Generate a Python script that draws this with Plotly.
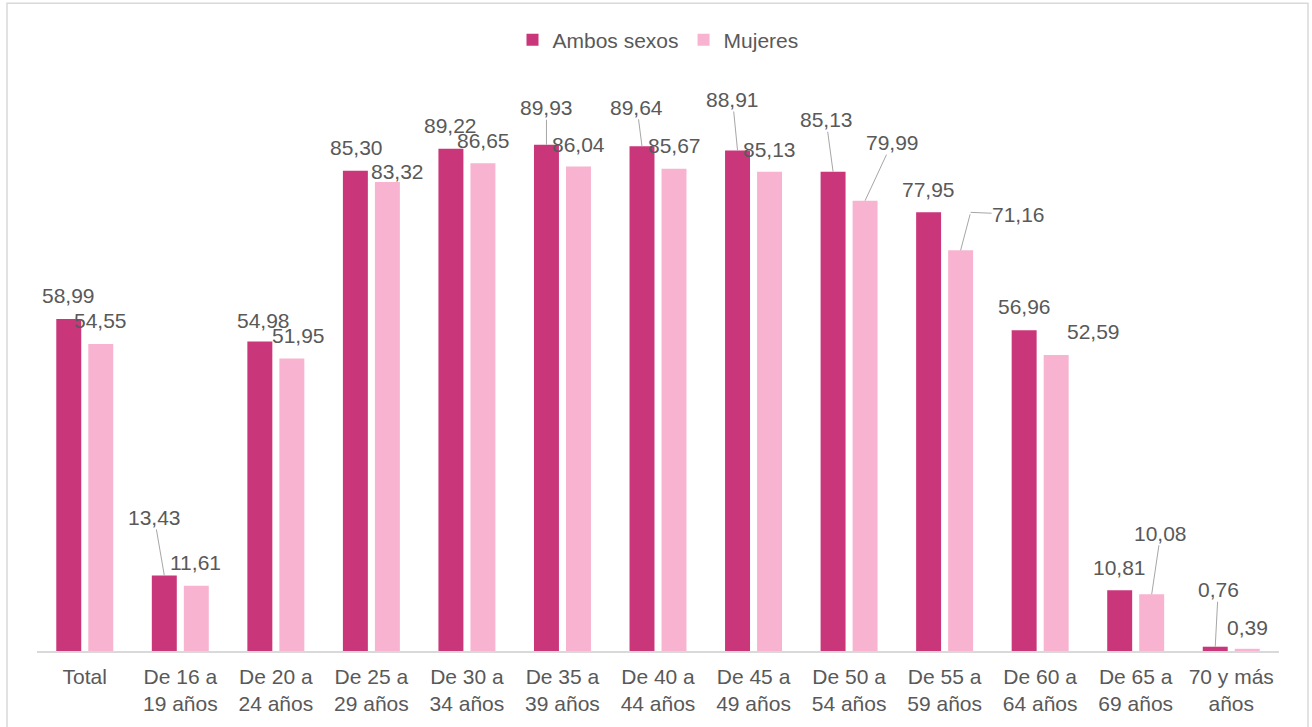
import plotly.graph_objects as go

# ---- data ----
categories = ["Total", "De 16 a<br>19 años", "De 20 a<br>24 años", "De 25 a<br>29 años",
              "De 30 a<br>34 años", "De 35 a<br>39 años", "De 40 a<br>44 años", "De 45 a<br>49 años",
              "De 50 a<br>54 años", "De 55 a<br>59 años", "De 60 a<br>64 años", "De 65 a<br>69 años",
              "70 y más<br>años"]
ambos = [58.99, 13.43, 54.98, 85.30, 89.22, 89.93, 89.64, 88.91, 85.13, 77.95, 56.96, 10.81, 0.76]
mujeres = [54.55, 11.61, 51.95, 83.32, 86.65, 86.04, 85.67, 85.13, 79.99, 71.16, 52.59, 10.08, 0.39]
series_names = ["Ambos sexos", "Mujeres"]

# ---- styles ----
C_AMBOS = "#C9367A"
C_MUJ = "#F8B3D0"
TXT = "#595959"
LEAD = "#A6A6A6"
FONT = "Liberation Sans, Arial, sans-serif"
FS = 21

W, H = 1312, 727
ML, MR, MT, MB = 37, 33, 88, 74
BARGAP, GROUPGAP = 0.33, 0.22

# label placement (pixel offsets of label centre from bar top centre), leader flag
lab_ambos = [(0, -23, False), (-10, -58, True), (4, -21, False), (1, -23.5, False),
             (0, -23, False), (0, -37, True), (-5, -39, True), (-5, -51, True),
             (-7, -52, True), (0, -23, False), (0, -24, False), (0, -22.5, False),
             (3, -57, True)]
lab_muj = [(0, -23, False), (-1, -23, False), (7, -23, False), (10, -10, False),
           (1, -23, False), (0, -22, False), (0, -23.5, False), (0, -22.5, False),
           (27, -58, True), ("elbow", (10, -38), (48, 2)), (37, -23.5, False), (9, -61, True),
           (0, -21, False)]


def fmt(v):
    return f"{v:.2f}".replace(".", ",")


fig = go.Figure()
fig.add_trace(go.Bar(name=series_names[0], x=categories, y=ambos, marker_color=C_AMBOS,
                     marker_line_width=0))
fig.add_trace(go.Bar(name=series_names[1], x=categories, y=mujeres, marker_color=C_MUJ,
                     marker_line_width=0))

plot_w = W - ML - MR
cat_w = plot_w / len(categories)
off = cat_w * (1 - BARGAP) / 4

annotations = []
font = dict(family=FONT, size=FS, color=TXT)
for vals, labs, sign in ((ambos, lab_ambos, -1), (mujeres, lab_muj, 1)):
    for cat, v, lab in zip(categories, vals, labs):
        if lab[0] == "elbow":
            (ex, ey), (lx, ly) = lab[1], lab[2]
            annotations.append(dict(x=cat, y=v, xref="x", yref="y", xshift=sign * off,
                                    text=" ", font=dict(size=1), showarrow=True, arrowhead=0,
                                    arrowwidth=1, arrowcolor=LEAD, ax=ex, ay=ey, standoff=0))
            annotations.append(dict(x=cat, y=v, xref="x", yref="y", xshift=sign * off + ex,
                                    yshift=-ey, text=fmt(v), font=font, showarrow=True,
                                    arrowhead=0, arrowwidth=1, arrowcolor=LEAD, ax=lx, ay=ly,
                                    standoff=0, borderpad=0))
            continue
        dx, dy, lead = lab
        if lead:
            annotations.append(dict(x=cat, y=v, xref="x", yref="y", xshift=sign * off,
                                    text=fmt(v), font=font, showarrow=True, arrowhead=0,
                                    arrowwidth=1, arrowcolor=LEAD, ax=dx, ay=dy, standoff=0,
                                    borderpad=0))
        else:
            annotations.append(dict(x=cat, y=v, xref="x", yref="y", xshift=sign * off + dx,
                                    yshift=-dy, text=fmt(v), font=font, showarrow=False,
                                    xanchor="center", yanchor="middle"))

plot_h = H - MT - MB
fig.update_layout(
    width=W, height=H,
    margin=dict(l=ML, r=MR, t=MT, b=MB, pad=0),
    paper_bgcolor="white", plot_bgcolor="white",
    barmode="group", bargap=BARGAP, bargroupgap=GROUPGAP,
    font=dict(family=FONT, size=FS, color=TXT),
    showlegend=True,
    legend=dict(orientation="h", x=0.5, xanchor="center", y=(H - MB - 40) / plot_h,
                yanchor="middle", font=dict(size=FS, color=TXT), bgcolor="rgba(0,0,0,0)",
                itemwidth=30, tracegroupgap=0),
    xaxis=dict(showline=True, linecolor="#D9D9D9", linewidth=1.5, ticks="", showgrid=False,
               tickfont=dict(size=FS, color=TXT), fixedrange=True, ticklabelstandoff=6),
    yaxis=dict(range=[0, 100], visible=False, showgrid=False, zeroline=False, fixedrange=True),
    annotations=annotations,
    shapes=[dict(type="rect", xref="paper", yref="paper",
                 x0=(7 - ML) / plot_w, x1=(1308 - ML) / plot_w,
                 y0=(H - MB - 760) / plot_h, y1=(H - MB - 3) / plot_h,
                 line=dict(color="#D9D9D9", width=1.5), fillcolor="rgba(0,0,0,0)", layer="below")],
)

fig.write_html("out.html", config={"displayModeBar": False},
               post_script="document.body.style.margin='0';")
